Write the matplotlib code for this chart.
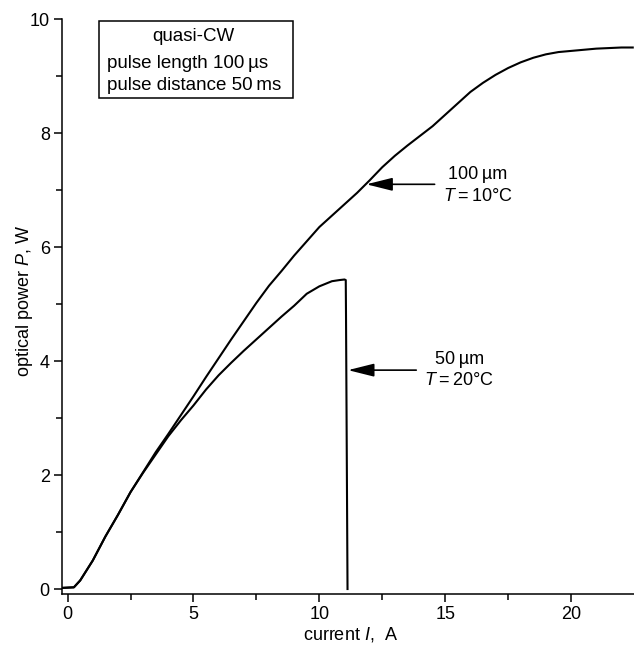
import matplotlib
matplotlib.use("Agg")
import matplotlib.pyplot as plt
from matplotlib.patches import Rectangle

plt.rcParams['font.family'] = ['Liberation Sans', 'DejaVu Sans']
plt.rcParams['mathtext.fontset'] = 'custom'
plt.rcParams['mathtext.rm'] = 'Liberation Sans'
plt.rcParams['mathtext.it'] = 'Liberation Sans:italic'

# 100 um, T = 10 C
x100 = [-0.2, 0.25, 0.5, 1.0, 1.5, 2.0, 2.5, 3.0, 3.5, 4.0, 4.5, 5.0, 5.5, 6.0,
        6.5, 7.0, 7.5, 8.0, 8.5, 9.0, 9.5, 10.0, 10.5, 11.0, 11.5, 12.0, 12.5,
        13.0, 13.5, 14.0, 14.5, 15.0, 15.5, 16.0, 16.5, 17.0, 17.5, 18.0, 18.5,
        19.0, 19.5, 20.0, 20.5, 21.0, 21.5, 22.0, 22.45]
y100 = [0.02, 0.03, 0.15, 0.5, 0.92, 1.3, 1.7, 2.05, 2.4, 2.72, 3.05, 3.38, 3.72,
        4.05, 4.38, 4.7, 5.02, 5.32, 5.58, 5.85, 6.1, 6.35, 6.55, 6.75, 6.95, 7.17,
        7.4, 7.6, 7.78, 7.95, 8.12, 8.32, 8.52, 8.72, 8.88, 9.02, 9.14, 9.24, 9.32,
        9.38, 9.42, 9.44, 9.46, 9.48, 9.49, 9.50, 9.50]
# 50 um, T = 20 C
x50 = [-0.2, 0.25, 0.5, 1.0, 1.5, 2.0, 2.5, 3.0, 3.5, 4.0, 4.5, 5.0, 5.5, 6.0,
       6.5, 7.0, 7.5, 8.0, 8.5, 9.0, 9.5, 10.0, 10.5, 10.8, 11.0, 11.05, 11.06,
       11.12]
y50 = [0.02, 0.03, 0.15, 0.5, 0.92, 1.3, 1.7, 2.04, 2.36, 2.68, 2.96, 3.22, 3.5,
       3.75, 3.97, 4.18, 4.38, 4.58, 4.78, 4.97, 5.18, 5.31, 5.40, 5.42, 5.43,
       5.42, 4.8, 0.0]

xticks = [0, 5, 10, 15, 20]
yticks = [0, 2, 4, 6, 8, 10]

fig = plt.figure(figsize=(6.34, 6.46), dpi=100)
ax = fig.add_axes([62.3/634, 1-593.7/646, (634-62.3)/634, (593.7-19)/646])

ax.plot(x100, y100, color='black', lw=1.5, solid_joinstyle='round')
ax.plot(x50, y50, color='black', lw=1.5, solid_joinstyle='round')

ax.set_xlim(-0.21, 22.5)
ax.set_ylim(-0.082, 10)
ax.set_xticks(xticks)
ax.set_yticks(yticks)
ax.set_xticks([2.5, 7.5, 12.5, 17.5], minor=True)
ax.set_yticks([1, 3, 5, 7, 9], minor=True)
ax.tick_params(which='major', direction='out', length=6, width=1.1, labelsize=13, pad=3)
ax.tick_params(which='minor', direction='out', length=4, width=1.1)
for s in ['top', 'right']:
    ax.spines[s].set_visible(False)
for s in ['left', 'bottom']:
    ax.spines[s].set_linewidth(1.1)

fig.text(350/634, 1-634/646, 'current $I$,  A', fontsize=13, ha='center', va='center')
fig.text(25/634, 1-301/646, 'optical power $P$, W', fontsize=13, ha='center',
         va='center', rotation=90)

# info box
ax.add_patch(Rectangle((1.25, 8.62), 7.69, 1.35, fill=False, lw=1.1,
                       edgecolor='black', clip_on=False))
ax.text(4.98, 9.69, 'quasi-CW', ha='center', va='center', fontsize=13.5)
ax.text(1.56, 9.22, 'pulse length 100\u2009\u00b5s', ha='left', va='center', fontsize=13.5)
ax.text(1.56, 8.84, 'pulse distance 50\u2009ms', ha='left', va='center', fontsize=13.5)

arrow = dict(arrowstyle='-|>,head_length=1.6,head_width=0.4', color='black',
             lw=1.2, mutation_scale=10, shrinkA=0, shrinkB=0)
ax.annotate('', xy=(11.87, 7.10), xytext=(14.58, 7.10), arrowprops=arrow)
ax.text(16.3, 7.28, '100\u2009\u00b5m', ha='center', va='center', fontsize=13)
ax.text(16.3, 6.88, '$T$\u2009=\u200910\u00b0C', ha='center', va='center', fontsize=13)

ax.annotate('', xy=(11.14, 3.84), xytext=(13.85, 3.84), arrowprops=arrow)
ax.text(15.57, 4.03, '50\u2009\u00b5m', ha='center', va='center', fontsize=13)
ax.text(15.57, 3.65, '$T$\u2009=\u200920\u00b0C', ha='center', va='center', fontsize=13)

fig.savefig('out.png', dpi=100)
